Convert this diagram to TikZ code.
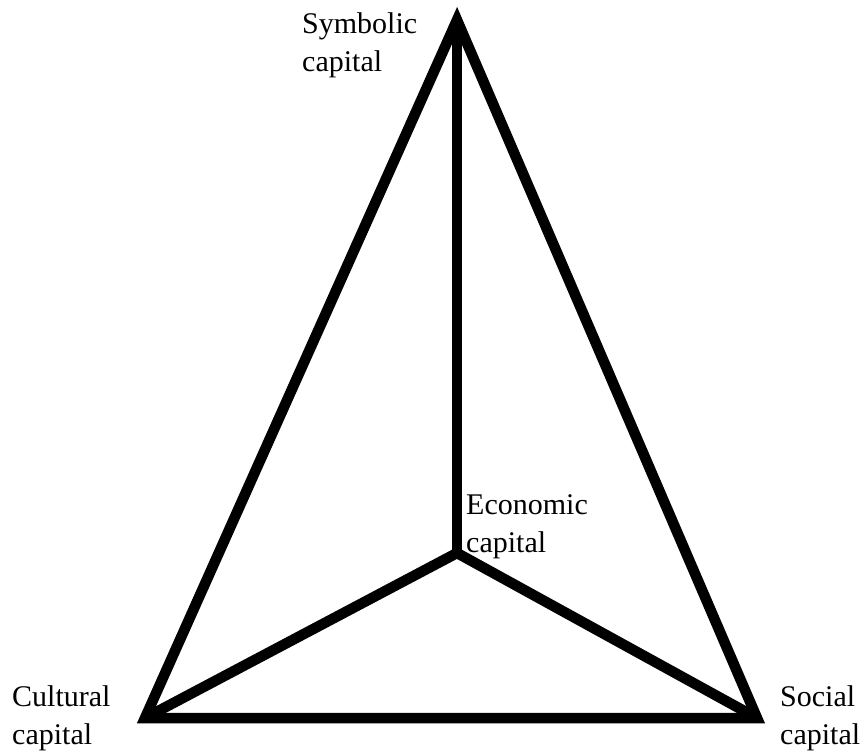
\documentclass[tikz,border=0pt]{standalone}
\usepackage{fontspec}
\setmainfont{Liberation Serif}
\begin{document}
\begin{tikzpicture}[x=1pt,y=-1pt,
  edge/.style={line width=10.5pt,line join=miter,miter limit=20},
  lbl/.style={anchor=north west,inner sep=0pt,align=left,font=\fontsize{30}{38}\selectfont}]
\useasboundingbox (0,0) rectangle (866,754);
\coordinate (sym) at (457,20);
\coordinate (cul) at (145,718);
\coordinate (soc) at (757,718);
\coordinate (eco) at (457,553);
\draw[edge] (sym) -- (cul) -- (soc) -- cycle;
\draw[edge] (sym) -- (eco);
\draw[edge] (cul) -- (eco) -- (soc);
\node[lbl] (tsym) at (302,12) {Symbolic\\capital};
\node[lbl] (teco) at (466,494) {Economic\\capital};
\node[lbl] (tcul) at (12,685) {Cultural\\capital};
\node[lbl] (tsoc) at (780,685) {Social\\capital};
\end{tikzpicture}
\end{document}
